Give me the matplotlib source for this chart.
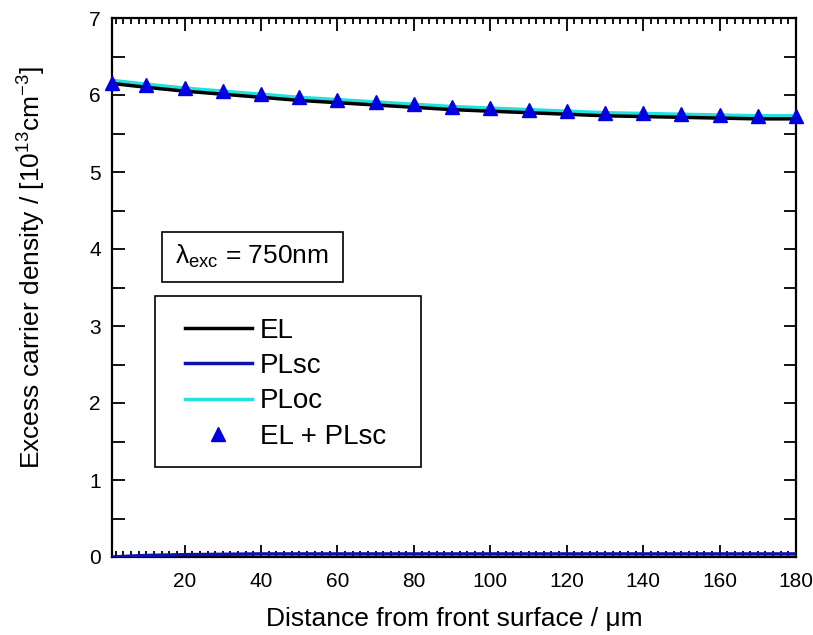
import matplotlib
matplotlib.use("Agg")
import matplotlib.pyplot as plt
from matplotlib.ticker import MultipleLocator
from matplotlib.patches import Rectangle

plt.rcParams['font.family'] = ['Liberation Sans', 'DejaVu Sans']
plt.rcParams['mathtext.fontset'] = 'custom'
plt.rcParams['mathtext.rm'] = 'Liberation Sans'
plt.rcParams['mathtext.it'] = 'Liberation Sans:italic'

# Data
x = [1, 10, 20, 30, 40, 50, 60, 70, 80, 90, 100, 110, 120, 130, 140, 150, 160, 170, 180]
el = [6.15, 6.10, 6.05, 6.01, 5.97, 5.93, 5.90, 5.87, 5.84, 5.81, 5.79, 5.77, 5.75, 5.73,
      5.72, 5.71, 5.70, 5.69, 5.69]
plsc = [0.0, 0.02, 0.03, 0.035, 0.04, 0.04, 0.04, 0.04, 0.04, 0.04, 0.04, 0.04, 0.04, 0.04,
        0.04, 0.04, 0.04, 0.04, 0.04]
ploc = [6.19, 6.14, 6.09, 6.05, 6.01, 5.97, 5.94, 5.91, 5.88, 5.85, 5.83, 5.81, 5.79, 5.77,
        5.76, 5.75, 5.74, 5.73, 5.73]
el_plsc = [6.16, 6.13, 6.09, 6.05, 6.01, 5.97, 5.94, 5.91, 5.88, 5.85, 5.83, 5.81, 5.79, 5.77,
           5.76, 5.75, 5.74, 5.73, 5.73]
x_ticks = [20, 40, 60, 80, 100, 120, 140, 160, 180]
y_ticks = [0, 1, 2, 3, 4, 5, 6, 7]

W, H = 813, 635
fig = plt.figure(figsize=(W / 100, H / 100), dpi=100)
ax = fig.add_axes([112 / W, 1 - 557 / H, (796 - 112) / W, (557 - 18) / H])


def fx(px):
    return px / W


def fy(py):
    return 1 - py / H


ax.plot(x, el, color='black', lw=2.5, label='EL', zorder=3)
ax.plot(x, plsc, color='#1010b0', lw=2.5, label='PLsc', zorder=3)
ax.plot(x, ploc, color='#20e0e0', lw=2.5, label='PLoc', zorder=2)
ax.plot(x, el_plsc, linestyle='none', marker='^', markersize=10, color='#0000e0',
        label='EL + PLsc', zorder=4, clip_on=False)

ax.set_xlim(1, 180)
ax.set_ylim(0, 7)
ax.set_xticks(x_ticks)
ax.set_yticks(y_ticks)
ax.xaxis.set_minor_locator(MultipleLocator(2))
ax.yaxis.set_minor_locator(MultipleLocator(0.5))
ax.tick_params(which='both', direction='in', top=True, right=True, width=1.3)
ax.tick_params(which='major', length=9, labelsize=15)
ax.tick_params(axis='x', which='major', pad=11)
ax.tick_params(axis='y', which='major', pad=8)
ax.tick_params(axis='x', which='minor', length=4)
ax.tick_params(axis='y', which='minor', length=9)
for s in ax.spines.values():
    s.set_linewidth(1.6)

ax.set_xlabel('Distance from front surface / μm', fontsize=19, labelpad=11)
ax.set_ylabel(r'Excess carrier density / [10$^{13}$cm$^{-3}$]', fontsize=19)
ax.yaxis.set_label_coords(-0.094, (557 - 268) / 539)
ax.yaxis.label.set_horizontalalignment('center')

# legend frame drawn manually
ax.add_patch(Rectangle((fx(155), fy(467)), fx(421) - fx(155), fy(296) - fy(467),
                       transform=fig.transFigure, facecolor='white', edgecolor='black',
                       linewidth=1.2, zorder=5, clip_on=False))
leg = ax.legend(loc='upper left', bbox_to_anchor=(fx(185), fy(318)),
                bbox_transform=fig.transFigure, borderaxespad=0, borderpad=0,
                fontsize=20, frameon=False, handlelength=2.41, handletextpad=0.29,
                labelspacing=0.33, numpoints=1)
leg.set_zorder(6)

ax.add_patch(Rectangle((fx(162), fy(282)), fx(343) - fx(162), fy(232) - fy(282),
                       transform=fig.transFigure, facecolor='white', edgecolor='black',
                       linewidth=1.2, zorder=5, clip_on=False))
ax.text(fx(252), fy(256), r'λ$_{\mathrm{exc}}$ = 750nm', fontsize=19,
        ha='center', va='center', zorder=6, transform=fig.transFigure)

fig.savefig('out.png', dpi=100)
